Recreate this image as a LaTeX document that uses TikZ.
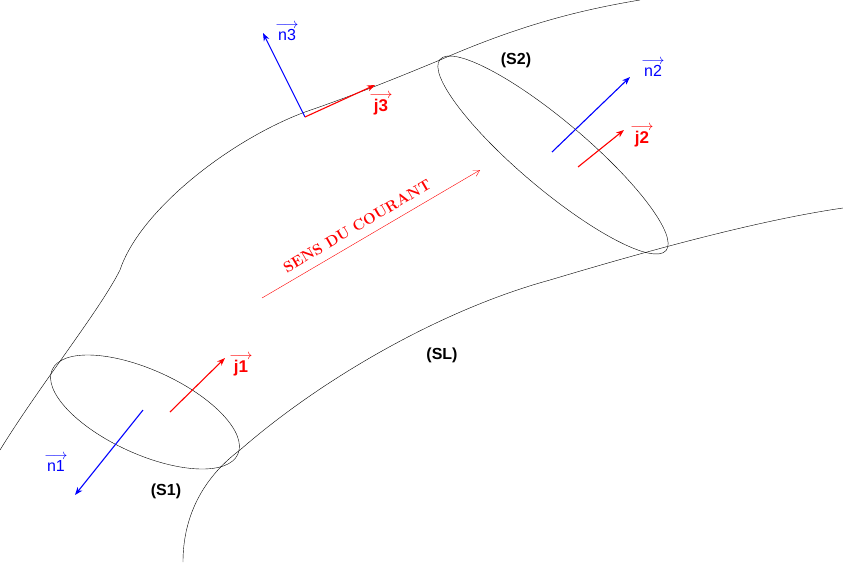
\documentclass[tikz,border=0pt]{standalone}
\usepackage{fontspec}
\setsansfont{Liberation Sans}
\usetikzlibrary{arrows.meta}
\newcommand{\vlab}[1]{{\normalfont\fontsize{14}{14}\selectfont$\longrightarrow$}\\[-4pt]#1}
\begin{document}
\begin{tikzpicture}[x=1pt,y=-1pt,
  vec/.style={-{Stealth[length=8pt,width=6pt]},line width=1.1pt},
  lab/.style={font=\sffamily\bfseries\fontsize{16}{16}\selectfont},
  bl/.style={align=center,text=blue,font=\sffamily\fontsize{16}{16}\selectfont,inner sep=0pt},
  rd/.style={align=center,text=red,font=\sffamily\bfseries\fontsize{17}{17}\selectfont,inner sep=0pt}]
\useasboundingbox (0,0) rectangle (843,562);
% tube boundaries
\draw (0,450) .. controls (40,385) and (100,310) .. (120,270)
  .. controls (140,210) and (230,140) .. (305,112)
  .. controls (340,100) and (380,85) .. (440,60)
  .. controls (520,25) and (580,10) .. (640,0);
\draw (183,562) .. controls (183,520) and (200,480) .. (240,450)
  .. controls (320,380) and (440,310) .. (550,280)
  .. controls (650,250) and (760,220) .. (843,208);
% surfaces
\draw (145,412) ellipse[x radius=102,y radius=42,rotate=-24.5];
\draw (553,155) ellipse[x radius=148,y radius=34,rotate=-40.2];
% vectors
\coordinate (o1) at (143,410); \coordinate (e1) at (75,495);
\draw[vec,blue] (o1) -- (e1);
\coordinate (a1) at (170,412); \coordinate (b1) at (225,358);
\draw[vec,red] (a1) -- (b1);
\coordinate (o2) at (552,152); \coordinate (e2) at (630,77);
\draw[vec,blue] (o2) -- (e2);
\coordinate (a2) at (578,167); \coordinate (b2) at (624,130);
\draw[vec,red] (a2) -- (b2);
\coordinate (o3) at (305,117); \coordinate (e3) at (263,33);
\coordinate (b3) at (375,85);
\draw[vec,blue] (o3) -- (e3);
\draw[vec,red] (o3) -- (b3);
\coordinate (s0) at (262,298); \coordinate (s1) at (480,170);
\draw[red,-{Straight Barb[length=6pt,width=7pt]}] (s0) -- (s1);
\node[text=red,font=\rmfamily\bfseries\fontsize{15}{15}\selectfont,rotate=30.5] (sens) at (357,226) {SENS DU COURANT};
% labels
\node[bl] (ln3) at (287,32) {\vlab{n3}};
\node[rd] (lj3) at (381,104) {\vlab{j3}};
\node[lab] (ls2) at (516,60) {(S2)};
\node[bl] (ln2) at (653,68) {\vlab{n2}};
\node[rd] (lj2) at (642,136) {\vlab{j2}};
\node[rd] (lj1) at (241,365) {\vlab{j1}};
\node[lab] (lsl) at (442,355) {(SL)};
\node[lab] (ls1) at (166,491) {(S1)};
\node[bl] (ln1) at (56,463) {\vlab{n1}};
\end{tikzpicture}
\end{document}
